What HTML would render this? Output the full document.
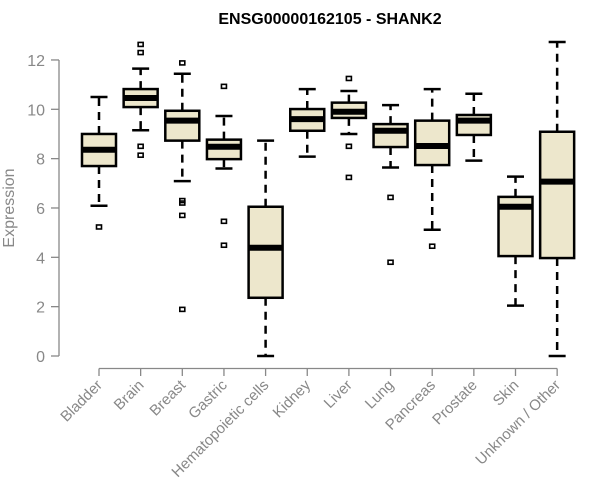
<!DOCTYPE html>
<html><head><meta charset="utf-8"><style>
body{margin:0;background:#fff}
svg{display:block;font-family:"Liberation Sans",Arial,sans-serif}
</style></head><body>
<svg id="c" width="600" height="500">
<text x="330" y="24" text-anchor="middle" font-weight="bold" font-size="16" fill="#000">ENSG00000162105 - SHANK2</text>
<text transform="translate(14,208) rotate(-90)" text-anchor="middle" font-size="16" fill="#888">Expression</text>
<g id="axes"></g><g id="plot"></g>
</svg>
<script>
const categories=["Bladder","Brain","Breast","Gastric","Hematopoietic cells","Kidney","Liver","Lung","Pancreas","Prostate","Skin","Unknown / Other"];
const whiskerLow=[6.09,9.15,7.09,7.6,0,8.08,9.0,7.64,5.12,7.92,2.04,0];
const q1=[7.7,10.09,8.73,7.98,2.36,9.13,9.65,8.47,7.74,8.96,4.05,3.97];
const medians=[8.36,10.46,9.54,8.48,4.39,9.6,9.9,9.13,8.51,9.54,6.05,7.07];
const q3=[9.0,10.82,9.94,8.77,6.05,10.01,10.27,9.4,9.54,9.77,6.45,9.09];
const whiskerHigh=[10.5,11.65,11.44,9.73,8.73,10.82,10.74,10.17,10.82,10.63,7.27,12.73];
const outliers=[[5.23],[12.63,12.3,8.5,8.14],[11.88,6.3,6.2,5.7,1.89],[10.93,5.46,4.49],[],[],[11.25,8.5,7.24],[6.43,3.8],[4.45],[],[],[]];
const yTicks=[0,2,4,6,8,10,12];
const NS="http://www.w3.org/2000/svg";
function y(v){return 356-v*24.67;}
function x(i){return 99+i*41.65;}
function mk(tag,attrs,parent){const e=document.createElementNS(NS,tag);for(const k in attrs)e.setAttribute(k,attrs[k]);parent.appendChild(e);return e;}
const ax=document.getElementById('axes'),pl=document.getElementById('plot');
let e=mk('line',{x1:59,x2:59,y1:y(0),y2:y(12),stroke:'#888','stroke-width':1.3},ax);


yTicks.forEach(t=>{
 let l=mk('line',{x1:51,x2:59,y1:y(t),y2:y(t),stroke:'#888','stroke-width':1.3},ax);
 
 
 let tx=mk('text',{x:45,y:y(t)+6,'text-anchor':'end','font-size':16,fill:'#888'},ax);
 tx.textContent=t;
 
 
});
e=mk('line',{x1:x(0),x2:x(11),y1:368.5,y2:368.5,stroke:'#888','stroke-width':1.3},ax);


categories.forEach((c,i)=>{
 const cx=x(i);
 let l=mk('line',{x1:cx,x2:cx,y1:368.5,y2:376,stroke:'#888','stroke-width':1.3},ax);
 
 
 let tx=mk('text',{transform:`translate(${cx+4},${386}) rotate(-45)`,'text-anchor':'end','font-size':15,fill:'#888'},ax);
 tx.textContent=c;
 
 
 const g=mk('g',{},pl);
 
 
 const st={stroke:'#000','stroke-width':2.5};
 mk('line',Object.assign({x1:cx,x2:cx,y1:y(q3[i]),y2:y(whiskerHigh[i]),'stroke-dasharray':'8,6'},st),g);
 mk('line',Object.assign({x1:cx,x2:cx,y1:y(q1[i]),y2:y(whiskerLow[i]),'stroke-dasharray':'8,6'},st),g);
 mk('line',Object.assign({x1:cx-8.5,x2:cx+8.5,y1:y(whiskerHigh[i]),y2:y(whiskerHigh[i])},st),g);
 mk('line',Object.assign({x1:cx-8.5,x2:cx+8.5,y1:y(whiskerLow[i]),y2:y(whiskerLow[i])},st),g);
 mk('rect',{x:cx-17,y:y(q3[i]),width:34,height:y(q1[i])-y(q3[i]),fill:'#ede7cc',stroke:'#000','stroke-width':2.5},g);
 mk('line',{x1:cx-17,x2:cx+17,y1:y(medians[i]),y2:y(medians[i]),stroke:'#000','stroke-width':6},g);
 outliers[i].forEach(o=>{
  const p=mk('rect',{x:cx-2.5,y:y(o)-2,width:5,height:4,fill:'none',stroke:'#000','stroke-width':1.6},g);
  
  
 });
});
</script>
</body></html>
